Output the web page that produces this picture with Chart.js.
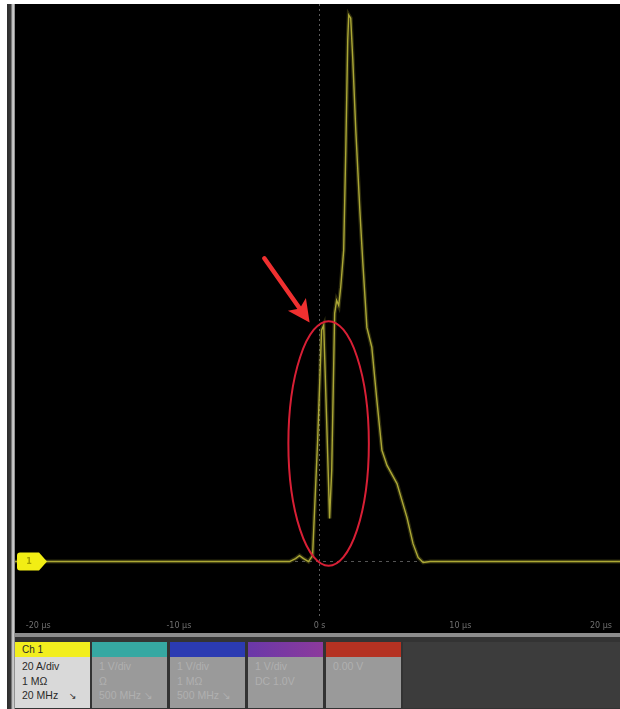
<!DOCTYPE html>
<html>
<head>
<meta charset="utf-8">
<script src="https://cdn.jsdelivr.net/npm/chart.js@4.4.0/dist/chart.umd.min.js"></script>
<style>
  html,body{margin:0;padding:0;background:#fff;width:620px;height:709px;overflow:hidden;font-family:"Liberation Sans","DejaVu Sans",sans-serif;}
  #band{position:absolute;left:7px;top:4px;width:8px;height:705px;background:linear-gradient(to right,#2c2c2c 0,#3a3a3a 4px,#b8b8b8 5px,#d0d0d0 7px,#555 8px);}
  #wrap{position:absolute;left:15px;top:4px;width:605px;height:629px;background:#000;}
  #sep{position:absolute;left:15px;top:633px;width:605px;height:4px;background:#8c8c8c;}
  #panel{position:absolute;left:15px;top:637px;width:605px;height:72px;background:#333;}
  .tile{position:absolute;top:5px;width:75px;height:66px;background:#9a9a9a;}
  .hd{height:15px;font-size:10px;line-height:15px;padding-left:7px;color:#2a2a2a;}
  .bd{font-size:10.5px;line-height:14.5px;padding-left:7px;padding-top:2px;color:#b0b0b0;white-space:nowrap;}
  #rest{position:absolute;left:388px;top:5px;width:217px;height:66px;background:#3c3c3c;}
</style>
</head>
<body>
<div id="band"></div>
<div id="wrap"><canvas id="c" width="605" height="629"></canvas></div>
<div id="sep"></div>
<div id="panel">
  <div class="tile" style="left:0;background:#d9d9d9;">
    <div class="hd" style="background:#f2ee1e;">Ch 1</div>
    <div class="bd" style="color:#2a2a2a;">20 A/div<br>1 MΩ<br>20 MHz <span style="font-size:9px;margin-left:8px;">↘</span></div>
  </div>
  <div class="tile" style="left:77px;">
    <div class="hd" style="background:#36a8a2;"></div>
    <div class="bd">1 V/div<br>Ω<br>500 MHz ↘</div>
  </div>
  <div class="tile" style="left:155px;">
    <div class="hd" style="background:#2b3bb2;"></div>
    <div class="bd">1 V/div<br>1 MΩ<br>500 MHz ↘</div>
  </div>
  <div class="tile" style="left:233px;">
    <div class="hd" style="background:linear-gradient(to right,#6a38a8,#8c3a9c);"></div>
    <div class="bd">1 V/div<br>DC 1.0V</div>
  </div>
  <div class="tile" style="left:311px;">
    <div class="hd" style="background:#b43222;"></div>
    <div class="bd">0.00 V</div>
  </div>
  <div id="rest"></div>
</div>
<script>
// ---- data (time in µs, current in A) ----
const timeUs = [-21.65, -2.14, -1.71, -1.43, -1.14, -0.79, -0.5, -0.14, 0.14, 0.29, 0.5, 0.71, 0.86, 1.07, 1.21, 1.36, 1.5, 1.71, 1.86, 2.0, 2.07, 2.21, 2.36, 2.57, 2.86, 3.07, 3.36, 3.71, 4.07, 4.43, 4.79, 5.5, 6.21, 6.64, 7.0, 7.36, 7.86, 21.35];
const currentA = [0, 0, 0.96, 1.9, 0.96, 0, 1.9, 38.5, 73.6, 75.2, 44.9, 13.7, 29, 79, 83.1, 81.5, 87.3, 99, 130.9, 166, 173.9, 172.9, 159.6, 137.3, 111.8, 95.2, 74.5, 68.2, 51.3, 35.4, 30.6, 24.8, 14, 5.7, 1.3, -0.3, 0, 0];
const xTicks = [-20, -10, 0, 10, 20];
const xTickLabels = ["-20 µs", "-10 µs", "0 s", "10 µs", "20 µs"];
const xRange = [-21.65, 21.35];
const yRange = [-18.4, 177.4];
// annotation anchors (data coordinates)
const ellipseAnn = {t: 0.64, v: 37.6, rt: 2.86, rv: 38.9};
const arrowAnn = {t0: -3.93, v0: 96.5, t1: -0.71, v1: 76.1};

const pts = timeUs.map((t, i) => ({x: t, y: currentA[i]}));

const annotations = {
  id: 'annot',
  afterDatasetsDraw(chart) {
    const {ctx, scales: {x, y}} = chart;
    ctx.save();
    // ellipse
    const cx = x.getPixelForValue(ellipseAnn.t), cy = y.getPixelForValue(ellipseAnn.v);
    const rx = Math.abs(x.getPixelForValue(ellipseAnn.t + ellipseAnn.rt) - cx);
    const ry = Math.abs(y.getPixelForValue(ellipseAnn.v + ellipseAnn.rv) - cy);
    ctx.strokeStyle = '#d81f35';
    ctx.lineWidth = 2;
    ctx.beginPath();
    ctx.ellipse(cx, cy, rx, ry, 0, 0, Math.PI * 2);
    ctx.stroke();
    // arrow
    const ax0 = x.getPixelForValue(arrowAnn.t0), ay0 = y.getPixelForValue(arrowAnn.v0);
    const ax1 = x.getPixelForValue(arrowAnn.t1), ay1 = y.getPixelForValue(arrowAnn.v1);
    const ang = Math.atan2(ay1 - ay0, ax1 - ax0);
    const hl = 22, hw = 11;
    const bx = ax1 - hl * Math.cos(ang), by = ay1 - hl * Math.sin(ang);
    ctx.strokeStyle = '#f03030';
    ctx.fillStyle = '#f03030';
    ctx.lineWidth = 4.5;
    ctx.lineCap = 'round';
    ctx.beginPath();
    ctx.moveTo(ax0, ay0);
    ctx.lineTo(bx + 4 * Math.cos(ang), by + 4 * Math.sin(ang));
    ctx.stroke();
    ctx.beginPath();
    ctx.moveTo(ax1, ay1);
    ctx.lineTo(bx + hw * Math.sin(ang), by - hw * Math.cos(ang));
    ctx.lineTo(bx + 5 * Math.cos(ang), by + 5 * Math.sin(ang));
    ctx.lineTo(bx - hw * Math.sin(ang), by + hw * Math.cos(ang));
    ctx.closePath();
    ctx.fill();
    // ground marker
    const gy = y.getPixelForValue(0);
    const gx = chart.chartArea.left + 2;
    ctx.fillStyle = '#f2ee14';
    ctx.beginPath();
    ctx.moveTo(gx + 3, gy - 9);
    ctx.lineTo(gx + 22, gy - 9);
    ctx.lineTo(gx + 30, gy);
    ctx.lineTo(gx + 22, gy + 9);
    ctx.lineTo(gx + 3, gy + 9);
    ctx.quadraticCurveTo(gx, gy + 9, gx, gy + 6);
    ctx.lineTo(gx, gy - 6);
    ctx.quadraticCurveTo(gx, gy - 9, gx + 3, gy - 9);
    ctx.fill();
    ctx.fillStyle = '#a29e00';
    ctx.font = 'bold 8px "DejaVu Sans"';
    ctx.textAlign = 'center';
    ctx.textBaseline = 'middle';
    ctx.fillText('1', gx + 12, gy);
    ctx.restore();
  }
};

new Chart(document.getElementById('c'), {
  type: 'scatter',
  data: {
    datasets: [
      {data: pts, showLine: true, pointRadius: 0, borderColor: 'rgba(180,176,50,0.25)', borderWidth: 4, tension: 0},
      {data: pts, showLine: true, pointRadius: 0, borderColor: '#aaa636', borderWidth: 1.4, tension: 0}
    ]
  },
  options: {
    responsive: false,
    animation: false,
    devicePixelRatio: 1,
    layout: {padding: 0},
    plugins: {legend: {display: false}, tooltip: {enabled: false}},
    scales: {
      x: {
        type: 'linear', min: xRange[0], max: xRange[1],
        afterBuildTicks: s => { s.ticks = xTicks.map(v => ({value: v})); },
        ticks: {color: '#707070', font: {size: 8, family: 'DejaVu Sans'}, padding: 2, maxRotation: 0, autoSkip: false,
          callback: (v, i) => xTickLabels[i]},
        grid: {color: c => (c.tick && c.tick.value === 0) ? 'rgba(130,130,130,0.7)' : 'rgba(0,0,0,0)', drawTicks: false, lineWidth: 1},
        border: {display: false, dash: [2, 3]}
      },
      y: {
        type: 'linear', min: yRange[0], max: yRange[1],
        afterBuildTicks: s => { s.ticks = [{value: 0}]; },
        ticks: {display: false},
        grid: {color: c => (c.tick && c.tick.value === 0) ? 'rgba(140,140,140,0.6)' : 'rgba(0,0,0,0)', drawTicks: false},
        border: {display: false, dash: [3, 4]}
      }
    }
  },
  plugins: [annotations]
});
</script>
</body>
</html>
